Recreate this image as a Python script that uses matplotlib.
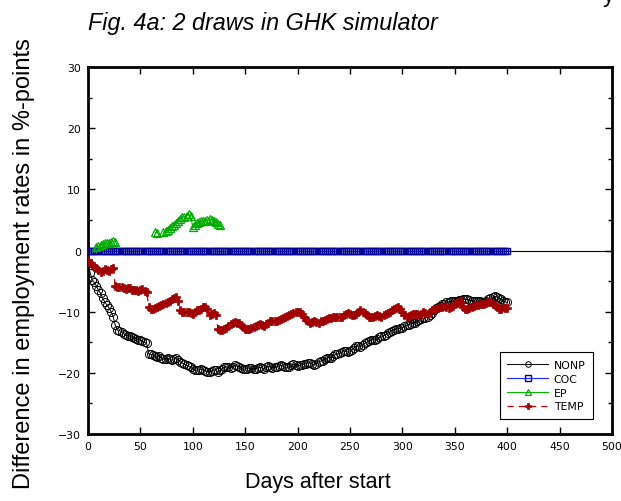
import numpy as np
import matplotlib
matplotlib.use("Agg")
import matplotlib.pyplot as plt
from matplotlib.legend_handler import HandlerLine2D
from matplotlib.ticker import MultipleLocator
from matplotlib.lines import Line2D

days = list(range(0, 401, 2))

nonp = [-2.0, -3.6, -4.8, -5.2, -5.8, -6.5, -7.0, -7.8, -8.4, -8.9,
        -9.4, -10.0, -10.8, -12.2, -13.0, -13.1, -13.3, -13.6, -13.8, -13.9,
        -14.0, -14.2, -14.3, -14.4, -14.6, -14.7, -14.8, -15.0, -15.2, -16.9,
        -17.0, -17.1, -17.2, -17.4, -17.3, -17.6, -17.8, -17.7, -17.6, -17.8,
        -17.9, -17.7, -17.5, -17.9, -18.2, -18.4, -18.6, -18.8, -18.9, -19.1,
        -19.3, -19.5, -19.6, -19.5, -19.4, -19.6, -19.7, -19.8, -19.9, -19.7,
        -19.5, -19.6, -19.8, -19.6, -19.3, -19.1, -19.0, -19.1, -19.2, -19.0,
        -18.8, -18.9, -19.0, -19.2, -19.4, -19.4, -19.3, -19.2, -19.2, -19.3,
        -19.4, -19.2, -19.1, -19.2, -19.3, -19.1, -18.9, -19.0, -19.2, -19.1,
        -19.0, -18.9, -18.8, -18.9, -19.1, -19.1, -19.0, -18.8, -18.6, -18.7,
        -18.9, -18.8, -18.7, -18.6, -18.5, -18.4, -18.4, -18.6, -18.7, -18.5,
        -18.2, -18.1, -18.0, -17.8, -17.6, -17.5, -17.5, -17.2, -17.0, -16.9,
        -16.8, -16.6, -16.4, -16.5, -16.6, -16.4, -16.2, -15.9, -15.6, -15.6,
        -15.7, -15.5, -15.2, -15.0, -14.8, -14.7, -14.6, -14.6, -14.5, -14.2,
        -14.0, -13.9, -13.8, -13.5, -13.3, -13.1, -13.0, -12.9, -12.8, -12.7,
        -12.6, -12.4, -12.2, -12.1, -12.0, -11.9, -11.8, -11.6, -11.4, -11.2,
        -11.1, -11.0, -10.9, -10.6, -10.2, -9.8, -9.4, -9.2, -9.0, -8.8,
        -8.7, -8.5, -8.4, -8.3, -8.3, -8.2, -8.2, -8.1, -8.1, -8.0,
        -8.0, -8.0, -8.1, -8.2, -8.3, -8.3, -8.2, -8.3, -8.4, -8.4,
        -8.3, -8.0, -7.8, -7.6, -7.5, -7.6, -7.8, -8.0, -8.2, -8.4,
        -8.5]

coc = [0.0] * 201

nan = float("nan")
ep = ([nan, nan, nan, nan, 0.6, 0.7, 0.9, 1.0, 1.2, 1.3,
       1.3, 1.4, 1.5, 1.4, nan, nan, nan, nan, nan, nan,
       nan, nan, nan, nan, nan, nan, nan, nan, nan, nan,
       nan, nan, 3.0, 2.9, nan, nan, 3.0, 3.2, 3.3, 3.7,
       4.0, 4.2, 4.5, 4.9, 5.2, 5.4, 5.5, 5.7, 5.9, 5.6,
       3.8, 4.2, 4.5, 4.6, 4.8, 4.8, 4.9, 5.0, 5.2, 5.0,
       4.8, 4.6, 4.3, 4.2] + [nan] * 137)

temp = [-1.5, -2.0, -2.3, -2.6, -2.8, -3.2, -3.5, -3.3, -3.0, -3.2,
        -3.4, -3.0, -2.8, -5.8, -6.0, -5.9, -6.0, -6.2, -6.3, -6.1,
        -6.2, -6.4, -6.5, -6.4, -6.6, -6.5, -6.3, -6.6, -6.8, -9.2,
        -9.6, -9.5, -9.4, -9.2, -9.0, -8.9, -8.8, -8.6, -8.5, -8.3,
        -8.0, -7.7, -7.6, -8.2, -9.8, -10.0, -10.1, -10.0, -10.0, -10.2,
        -10.3, -10.0, -9.8, -9.7, -9.5, -9.3, -9.2, -9.6, -10.6, -10.4,
        -10.2, -10.5, -12.8, -13.0, -13.0, -12.8, -12.6, -12.3, -12.0, -11.8,
        -11.7, -11.8, -11.9, -12.2, -12.5, -12.8, -12.9, -12.8, -12.6, -12.5,
        -12.4, -12.2, -12.0, -12.1, -12.3, -12.0, -11.8, -11.6, -11.5, -11.6,
        -11.6, -11.4, -11.2, -11.0, -10.8, -10.7, -10.6, -10.4, -10.2, -10.1,
        -10.0, -10.1, -10.4, -10.9, -11.4, -11.6, -11.8, -11.7, -11.6, -11.7,
        -11.8, -11.6, -11.5, -11.3, -11.2, -11.1, -11.0, -10.9, -10.8, -10.9,
        -10.9, -10.8, -10.6, -10.4, -10.2, -10.4, -10.6, -10.5, -10.4, -10.1,
        -9.8, -10.0, -10.2, -10.5, -10.8, -10.9, -10.9, -10.7, -10.6, -10.7,
        -10.8, -10.6, -10.4, -10.2, -10.0, -9.8, -9.6, -9.4, -9.2, -9.5,
        -10.0, -10.5, -10.8, -10.7, -10.6, -10.4, -10.3, -10.4, -10.5, -10.3,
        -10.1, -10.2, -10.3, -10.0, -9.8, -9.6, -9.5, -9.4, -9.3, -9.2,
        -9.1, -9.2, -9.4, -9.2, -9.0, -8.8, -8.6, -8.5, -8.5, -9.2,
        -9.6, -9.5, -9.4, -9.2, -9.0, -8.9, -8.9, -8.8, -8.8, -8.7,
        -8.6, -8.5, -8.5, -8.7, -8.9, -9.3, -9.6, -9.5, -9.3, -9.4,
        -9.4]

series_names = ["NONP", "COC", "EP", "TEMP"]
x_ticks = list(range(0, 501, 50))
y_ticks = list(range(-30, 31, 10))


class LeftMarkerHandler(HandlerLine2D):
    def get_xdata(self, legend, xdescent, ydescent, width, height, fontsize):
        xdata = np.array([-xdescent, -xdescent + width])
        xmark = np.array([-xdescent + 0.1 * width])
        return xdata, xmark


plt.rcParams['font.family'] = ['DejaVu Sans']
fig = plt.figure(figsize=(6.21, 5.02), dpi=100)
ax = fig.add_axes([88 / 621, 1 - 435 / 502, 524 / 621, 367 / 502])

ax.axhline(0, color='black', lw=0.8, zorder=1)

l1, = ax.plot(days, nonp, color='black', lw=0.7, marker='o', ms=5.8,
              mfc='none', mec='black', mew=0.7, label=series_names[0], zorder=3)
l2, = ax.plot(days, coc, color='#2020ff', lw=0.8, marker='s', ms=4.4,
              mfc='none', mec='#000099', mew=1.0, label=series_names[1], zorder=3)
l3, = ax.plot(days, ep, color='#00bb00', lw=0.8, marker='^', ms=5.5,
              mfc='none', mec='#00aa00', mew=0.9, label=series_names[2], zorder=3)
l4, = ax.plot(days, temp, color='#cc0000', lw=0.9, ls=(0, (5, 4)), marker='P', ms=6,
              mfc='#a00000', mec='#a00000', mew=0.5, label=series_names[3], zorder=4)

ax.set_xlim(0, 500)
ax.set_ylim(-30, 30)
ax.set_xticks(x_ticks)
ax.set_yticks(y_ticks)
ax.yaxis.set_minor_locator(MultipleLocator(5))
ax.tick_params(which='both', direction='in', top=True, right=True,
               labelsize=7.8, width=1.0)
ax.tick_params(which='major', length=5)
ax.tick_params(which='minor', length=3)
ax.tick_params(axis='x', pad=5)
ax.tick_params(axis='y', pad=5)
for s in ax.spines.values():
    s.set_linewidth(2.0)

ax.set_xlabel("Days after start", fontsize=15.5,
              family=['Liberation Sans', 'DejaVu Sans'])
ax.xaxis.set_label_coords(0.439, -0.1)
ax.set_ylabel("Difference in employment rates in %-points", fontsize=17,
              family=['Liberation Sans', 'DejaVu Sans'])
ax.yaxis.set_label_coords(-0.102, 0.466)

fig.text(88 / 621, 1 - 30 / 502, "Fig. 4a: 2 draws in GHK simulator", fontsize=16.8,
         style='italic', family=['Liberation Sans', 'DejaVu Sans'], ha='left', va='baseline')
fig.text(603 / 621, 1 - 2 / 502, "y", fontsize=16.8,
         family=['Liberation Sans', 'DejaVu Sans'], ha='left', va='baseline')

leg = ax.legend(handles=[l1, l2, l3, l4], loc='lower right',
                bbox_to_anchor=(1 - 19 / 524, 15 / 367), fontsize=7.8,
                frameon=True, fancybox=False, edgecolor='black', framealpha=1,
                numpoints=1, handlelength=3.8, handletextpad=0.5,
                borderpad=0.7, labelspacing=0.35, borderaxespad=0,
                handler_map={Line2D: LeftMarkerHandler()})
leg.get_frame().set_linewidth(0.8)
for h in leg.legend_handles:
    h.set_markersize(4)

fig.savefig("out.png", dpi=100)
